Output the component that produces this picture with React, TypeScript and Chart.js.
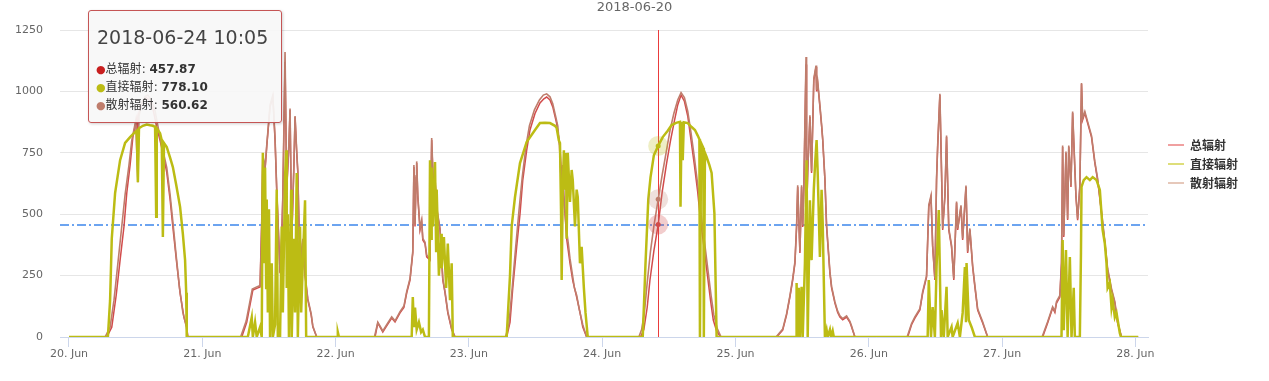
import React, { useEffect, useRef } from "react";
import { Chart, registerables } from "chart.js";

Chart.register(...registerables);

const chartTitle = "2018-06-20";
const dayLabels = ["20. Jun", "21. Jun", "22. Jun", "23. Jun", "24. Jun", "25. Jun", "26. Jun", "27. Jun", "28. Jun"];
const yTicks = [0, 250, 500, 750, 1000, 1250];
const seriesNames = ["总辐射", "直接辐射", "散射辐射"];
const seriesColors = ["#d24b4b", "#bcbc14", "#bf7d6c"];
const legendColors = ["#f0a0a0", "#dede7a", "#e6c8ba"];
const haloColors = ["rgba(210,75,75,0.28)", "rgba(188,188,20,0.25)", "rgba(192,132,114,0.25)"];
const hoverTime = "2018-06-24 10:05";
const hoverHour = 106.08;
const hoverValues = [457.87, 778.1, 560.62];

// [hours since 20 Jun 00:00, W/m²]
const totalRad: [number, number][] = [
  [0, 0],
  [6.8, 0], [7.7, 40], [8.5, 170], [9.2, 313], [9.9, 450], [10.4, 586], [11.0, 700], [11.5, 814], [12.2, 890], [12.4, 640], [12.5, 900], [12.8, 935], [13.3, 962], [13.9, 975], [14.4, 965], [15.1, 930], [15.8, 855], [16.4, 800], [17.0, 740], [17.6, 670], [18.2, 560], [18.7, 448], [19.4, 300], [20.0, 179], [20.7, 80], [21.2, 41], [21.4, 0],
  [31.1, 0], [32.0, 60], [33.1, 191], [34.0, 200], [34.4, 204], [34.7, 464], [34.9, 733], [35.3, 680], [35.6, 774], [36.2, 937], [36.7, 977], [37.1, 800], [37.4, 599], [38.0, 260], [38.3, 400], [38.5, 570], [38.9, 1120], [39.2, 600], [39.6, 780], [39.8, 924], [40.1, 395], [40.5, 700], [40.7, 896], [41.0, 750], [41.2, 668], [41.6, 260], [41.9, 350], [42.1, 395], [42.5, 250], [43.0, 151], [43.6, 90], [43.9, 41], [44.6, 0],
  [55.1, 0], [55.6, 57], [56.5, 20], [57.2, 45], [58.1, 77], [58.7, 61], [59.6, 98], [60.3, 120], [60.8, 179], [61.4, 232], [61.9, 342], [62.1, 692], [62.3, 450], [62.5, 650], [62.6, 708], [62.8, 570], [63.2, 436], [63.5, 470], [63.7, 395], [64.1, 380], [64.4, 326], [65.0, 313], [65.3, 802], [65.7, 550], [65.9, 639], [66.2, 520], [66.8, 436], [67.3, 232], [67.7, 180], [68.2, 98], [68.9, 30], [69.5, 0],
  [78.8, 0], [79.4, 60], [79.9, 200], [80.6, 367], [81.2, 500], [81.7, 639], [82.4, 760], [83.0, 843], [83.9, 910], [84.8, 953], [85.5, 970], [86.0, 977], [86.6, 965], [87.1, 937], [87.8, 870], [88.4, 774], [88.7, 650], [89.3, 505], [89.6, 400], [90.2, 301], [90.7, 230], [91.4, 163], [92.0, 100], [92.5, 41], [93.2, 0],
  [102.9, 0], [103.5, 30], [104.1, 120], [104.6, 232], [105.3, 350], [106.08, 457.87], [106.8, 590], [107.6, 708], [108.3, 800], [109.0, 880], [109.6, 945], [110.2, 985], [110.8, 960], [111.4, 900], [112.0, 800], [112.6, 700], [113.2, 590], [113.7, 476], [114.3, 370], [114.9, 260], [115.5, 150], [116.0, 69], [116.6, 25], [117.3, 0],
  [127.4, 0], [128.5, 28], [129.2, 90], [129.8, 163], [130.3, 232], [130.7, 300], [131.0, 448], [131.2, 611], [131.6, 342], [131.9, 611], [132.1, 448], [132.3, 600], [132.7, 1110], [132.8, 500], [133.0, 668], [133.4, 896], [133.7, 668], [134.1, 1046], [134.5, 1099], [134.6, 1000], [134.8, 1034], [135.2, 937], [135.5, 860], [135.7, 802], [136.1, 639], [136.4, 448], [137.0, 260], [137.3, 200], [137.9, 138], [138.4, 100], [138.8, 81], [139.3, 70], [140.0, 81], [140.6, 60], [140.9, 41], [141.5, 0],
  [151.0, 0], [151.7, 50], [152.3, 77], [153.2, 110], [153.7, 179], [154.4, 244], [154.8, 530], [155.2, 570], [155.5, 367], [155.9, 232], [156.2, 639], [156.4, 774], [156.8, 985], [157.1, 668], [157.3, 436], [157.7, 570], [158.0, 814], [158.4, 436], [158.9, 367], [159.3, 232], [159.8, 546], [160.0, 436], [160.6, 530], [160.9, 395], [161.5, 611], [161.8, 342], [162.2, 436], [162.7, 285], [163.1, 204], [163.6, 110], [164.5, 57], [165.4, 0],
  [175.3, 0], [176.2, 57], [177.1, 118], [177.5, 100], [177.8, 138], [178.4, 163], [178.7, 300], [178.9, 774], [179.1, 407], [179.5, 749], [179.8, 476], [180.0, 774], [180.4, 611], [180.7, 912], [181.3, 570], [181.6, 476], [182.0, 611], [182.3, 1030], [182.5, 884], [182.9, 912], [183.4, 871], [184.1, 814], [184.7, 708], [185.2, 639], [185.9, 505], [186.5, 383], [187.0, 273], [187.7, 191], [188.3, 138], [188.8, 57], [189.5, 0],
  [192.5, 0],
];

const directRad: [number, number][] = [
  [0, 0],
  [7.0, 0], [7.4, 150], [7.7, 400], [8.3, 586], [9.2, 720], [10.1, 790], [11.0, 814], [11.7, 830], [12.2, 840], [12.4, 630], [12.6, 850], [13.3, 860], [14.0, 865], [14.6, 862], [15.1, 860], [15.5, 855], [15.7, 490], [15.8, 850], [16.4, 830], [16.7, 800], [16.9, 407], [17.1, 790], [17.6, 773], [18.2, 730], [18.7, 692], [19.3, 620], [20.0, 530], [20.5, 420], [20.9, 313], [21.1, 180], [21.2, 0],
  [32.2, 0], [32.9, 80], [33.1, 0], [33.5, 60], [33.8, 0], [34.4, 40], [34.7, 0], [34.9, 750], [35.1, 300], [35.3, 690], [35.5, 200], [35.6, 560], [35.8, 100], [36.0, 520], [36.2, 0], [36.5, 300], [36.7, 0], [37.1, 50], [37.4, 600], [37.6, 0], [38.0, 0], [38.3, 450], [38.5, 100], [38.9, 650], [39.1, 760], [39.2, 200], [39.4, 500], [39.6, 0], [40.0, 600], [40.1, 0], [40.5, 400], [40.7, 100], [41.0, 668], [41.2, 0], [41.6, 450], [41.8, 100], [42.1, 300], [42.5, 557], [42.7, 0], [48.3, 0], [48.4, 20], [48.6, 0],
  [61.7, 0], [61.9, 163], [62.1, 40], [62.3, 120], [62.6, 30], [63.0, 60], [63.4, 20], [63.7, 30], [64.1, 0], [64.8, 0], [65.0, 720], [65.2, 400], [65.3, 690], [65.5, 450], [65.9, 712], [66.1, 350], [66.2, 600], [66.6, 250], [67.0, 420], [67.1, 280], [67.5, 407], [67.9, 200], [68.2, 380], [68.6, 150], [68.9, 300], [69.1, 0],
  [78.8, 0], [79.4, 250], [79.7, 450], [80.3, 570], [81.2, 708], [82.4, 794], [83.9, 843], [84.8, 871], [85.7, 872], [86.6, 871], [87.5, 860], [87.8, 851], [88.2, 800], [88.4, 790], [88.6, 500], [88.7, 232], [88.9, 600], [89.1, 760], [89.3, 600], [89.5, 749], [89.6, 400], [89.8, 750], [90.2, 550], [90.5, 680], [90.7, 639], [91.1, 450], [91.4, 600], [91.6, 570], [92.0, 300], [92.3, 367], [92.7, 200], [93.0, 98], [93.4, 0],
  [103.3, 0], [103.8, 300], [104.3, 560], [104.7, 650], [105.3, 740], [106.08, 778.1], [106.9, 814], [107.8, 840], [108.5, 863], [109.3, 872], [110.0, 876], [110.1, 530], [110.3, 876], [110.5, 720], [110.7, 874], [111.4, 871], [112.1, 855], [112.7, 843], [113.2, 820], [113.5, 805], [113.6, 0], [113.8, 790], [114.2, 770], [114.3, 0], [114.5, 750], [114.8, 733], [115.3, 700], [115.7, 668], [116.2, 505], [116.4, 250], [116.6, 0],
  [130.9, 0], [131.0, 220], [131.2, 0], [131.4, 200], [131.6, 0], [131.9, 204], [132.1, 0], [132.5, 300], [132.8, 720], [133.0, 0], [133.4, 557], [133.7, 313], [134.1, 600], [134.3, 692], [134.6, 802], [134.8, 668], [135.2, 326], [135.5, 599], [135.7, 464], [136.1, 0], [136.4, 30], [136.6, 0], [137.0, 30], [137.2, 0], [137.5, 25], [137.7, 0],
  [154.6, 0], [154.8, 232], [155.2, 0], [155.5, 122], [155.9, 0], [156.2, 285], [156.6, 517], [157.0, 0], [157.1, 110], [157.5, 0], [158.0, 204], [158.2, 0], [158.9, 41], [159.1, 0], [160.0, 57], [160.4, 0], [160.9, 98], [161.3, 285], [161.5, 60], [161.6, 301], [162.0, 69], [162.5, 41], [163.1, 0],
  [178.7, 0], [178.9, 395], [179.1, 28], [179.5, 354], [179.8, 0], [180.2, 326], [180.5, 0], [180.9, 200], [181.1, 0], [182.0, 0], [182.2, 342], [182.3, 611], [182.7, 639], [183.2, 651], [183.8, 639], [184.3, 651], [185.0, 639], [185.6, 599], [186.1, 436], [186.5, 380], [186.8, 301], [187.0, 200], [187.4, 220], [187.7, 120], [187.9, 151], [188.3, 80], [188.6, 98], [189.2, 15], [189.4, 0],
  [192.5, 0],
];

const diffuseRad: [number, number][] = [
  [0, 0],
  [6.5, 0], [7.4, 40], [8.1, 150], [8.8, 300], [9.5, 450], [10.1, 580], [10.8, 700], [11.3, 800], [12.0, 880], [12.4, 630], [12.6, 900], [13.1, 950], [13.7, 980], [14.2, 985], [14.8, 965], [15.5, 920], [16.0, 860], [16.5, 800], [17.1, 740], [17.6, 690], [18.2, 580], [18.7, 470], [19.3, 330], [19.9, 200], [20.5, 100], [21.1, 45], [21.4, 0],
  [30.9, 0], [31.9, 65], [33.0, 195], [33.9, 205], [34.4, 210], [34.7, 470], [34.9, 740], [35.3, 690], [35.6, 780], [36.2, 945], [36.7, 985], [37.1, 810], [37.4, 605], [38.0, 265], [38.3, 410], [38.5, 575], [38.9, 1160], [39.2, 610], [39.6, 790], [39.8, 930], [40.1, 400], [40.5, 705], [40.7, 900], [41.0, 755], [41.2, 675], [41.6, 265], [41.9, 355], [42.1, 400], [42.5, 255], [43.0, 155], [43.6, 95], [43.9, 45], [44.6, 0],
  [55.0, 0], [55.6, 60], [56.5, 25], [57.2, 50], [58.1, 82], [58.7, 66], [59.6, 103], [60.3, 126], [60.8, 185], [61.4, 238], [61.9, 350], [62.1, 700], [62.3, 458], [62.5, 656], [62.6, 715], [62.8, 578], [63.2, 442], [63.5, 476], [63.7, 402], [64.1, 386], [64.4, 333], [65.0, 320], [65.3, 810], [65.7, 556], [65.9, 646], [66.2, 527], [66.8, 442], [67.3, 238], [67.7, 186], [68.2, 104], [68.9, 34], [69.5, 0],
  [78.6, 0], [79.2, 50], [79.8, 200], [80.4, 360], [81.0, 510], [81.6, 650], [82.3, 780], [82.9, 860], [83.8, 925], [84.7, 965], [85.4, 985], [86.0, 990], [86.6, 978], [87.1, 950], [87.6, 900], [88.0, 860], [88.3, 780], [88.6, 640], [88.9, 700], [89.2, 540], [89.5, 450], [89.9, 380], [90.2, 320], [90.6, 260], [91.0, 200], [91.4, 170], [91.9, 110], [92.5, 50], [93.2, 0],
  [102.6, 0], [103.1, 30], [103.6, 100], [104.1, 220], [104.7, 350], [105.3, 450], [106.08, 560.62], [106.8, 660], [107.5, 750], [108.2, 840], [108.9, 910], [109.6, 965], [110.2, 995], [110.8, 975], [111.4, 920], [112.0, 830], [112.6, 730], [113.2, 620], [113.8, 500], [114.4, 390], [115.0, 280], [115.6, 170], [116.1, 90], [116.7, 35], [117.4, 0],
  [127.3, 0], [128.5, 32], [129.2, 95], [129.8, 168], [130.3, 238], [130.7, 306], [131.0, 455], [131.2, 618], [131.6, 348], [131.9, 618], [132.1, 455], [132.3, 606], [132.7, 1140], [132.8, 506], [133.0, 675], [133.4, 903], [133.7, 675], [134.1, 1052], [134.5, 1105], [134.6, 1006], [134.8, 1040], [135.2, 943], [135.5, 866], [135.7, 808], [136.1, 645], [136.4, 455], [137.0, 266], [137.3, 206], [137.9, 143], [138.4, 105], [138.8, 86], [139.3, 75], [140.0, 86], [140.6, 64], [140.9, 45], [141.5, 0],
  [150.9, 0], [151.7, 55], [152.3, 82], [153.2, 115], [153.7, 185], [154.4, 250], [154.8, 537], [155.2, 576], [155.5, 373], [155.9, 238], [156.2, 645], [156.4, 780], [156.8, 990], [157.1, 675], [157.3, 442], [157.7, 576], [158.0, 820], [158.4, 442], [158.9, 373], [159.3, 238], [159.8, 552], [160.0, 442], [160.6, 536], [160.9, 401], [161.5, 617], [161.8, 348], [162.2, 442], [162.7, 291], [163.1, 210], [163.6, 115], [164.5, 62], [165.4, 0],
  [175.2, 0], [176.2, 62], [177.1, 123], [177.5, 105], [177.8, 144], [178.4, 169], [178.7, 306], [178.9, 780], [179.1, 413], [179.5, 755], [179.8, 482], [180.0, 780], [180.4, 617], [180.7, 918], [181.3, 576], [181.6, 482], [182.0, 617], [182.3, 1034], [182.5, 890], [182.9, 918], [183.4, 877], [184.1, 820], [184.7, 714], [185.2, 645], [185.9, 511], [186.5, 389], [187.0, 279], [187.7, 197], [188.3, 144], [188.8, 62], [189.5, 0],
  [192.5, 0],
];

const FONT = '"DejaVu Sans", "Noto Sans CJK SC", sans-serif';

const overlayPlugin = {
  id: "overlay",
  beforeDatasetsDraw(chart: any) {
    const { ctx, chartArea, scales } = chart;
    const px = Math.round(scales.x.getPixelForValue(hoverHour)) + 0.5;
    const py = Math.round(scales.y.getPixelForValue(hoverValues[0]));
    ctx.save();
    ctx.lineWidth = 1.6;
    ctx.strokeStyle = "#3d86ec";
    ctx.setLineDash([9, 3, 2, 3]);
    ctx.beginPath();
    ctx.moveTo(chartArea.left, py);
    ctx.lineTo(chartArea.right, py);
    ctx.stroke();
    ctx.setLineDash([]);
    ctx.lineWidth = 1;
    ctx.strokeStyle = "#ea3c3c";
    ctx.beginPath();
    ctx.moveTo(px, chartArea.top);
    ctx.lineTo(px, chartArea.bottom);
    ctx.stroke();
    ctx.restore();
  },
  afterDatasetsDraw(chart: any) {
    const { ctx, scales } = chart;
    const px = scales.x.getPixelForValue(hoverHour);
    ctx.save();
    hoverValues.forEach((v, i) => {
      const cy = scales.y.getPixelForValue(v);
      ctx.fillStyle = haloColors[i];
      ctx.beginPath();
      ctx.arc(px, cy, 10, 0, Math.PI * 2);
      ctx.fill();
      ctx.fillStyle = seriesColors[i];
      ctx.beginPath();
      ctx.arc(px, cy, 2.5, 0, Math.PI * 2);
      ctx.fill();
    });
    ctx.restore();
  },
};

export default function App() {
  const canvasRef = useRef<HTMLCanvasElement | null>(null);

  useEffect(() => {
    if (!canvasRef.current) return;
    const toXY = (arr: [number, number][]) => arr.map(([x, y]) => ({ x, y }));
    const chart = new Chart(canvasRef.current, {
      type: "line",
      data: {
        datasets: [
          { label: seriesNames[0], data: toXY(totalRad), borderColor: seriesColors[0], borderWidth: 1.5, order: 2 },
          { label: seriesNames[1], data: toXY(directRad), borderColor: seriesColors[1], borderWidth: 2.5, order: 0 },
          { label: seriesNames[2], data: toXY(diffuseRad), borderColor: seriesColors[2], borderWidth: 1.6, order: 1 },
        ],
      },
      options: {
        responsive: false,
        animation: false,
        events: [],
        layout: { padding: { top: 30, right: 121, left: 0, bottom: 0 } },
        elements: { point: { radius: 0 }, line: { tension: 0 } },
        plugins: { legend: { display: false }, tooltip: { enabled: false }, title: { display: false } },
        scales: {
          x: {
            type: "linear",
            min: -1.62,
            max: 194.27,
            afterBuildTicks: (s: any) => {
              s.ticks = dayLabels.map((_, i) => ({ value: i * 24 }));
            },
            afterFit: (s: any) => {
              s.height = 44;
            },
            grid: { drawOnChartArea: false, drawTicks: true, tickLength: 10, color: "#ccd6eb" },
            border: { color: "#ccd6eb" },
            ticks: {
              padding: 1,
              color: "#666666",
              font: { family: FONT, size: 11 },
              maxRotation: 0,
              autoSkip: false,
              callback: (_v: any, i: number) => dayLabels[i],
            },
          },
          y: {
            min: 0,
            max: 1250,
            afterBuildTicks: (s: any) => {
              s.ticks = yTicks.map((v) => ({ value: v }));
            },
            afterFit: (s: any) => {
              s.width = 60;
            },
            grid: { color: "#e6e6e6", drawTicks: false },
            border: { display: false },
            ticks: {
              padding: 17,
              color: "#666666",
              font: { family: FONT, size: 11 },
              callback: (v: any) => String(v),
            },
          },
        },
      },
      plugins: [overlayPlugin],
    } as any);
    return () => chart.destroy();
  }, []);

  return (
    <div style={{ position: "absolute", left: 0, top: 0, width: 1269, height: 381, background: "#fff", fontFamily: FONT }}>
      <canvas ref={canvasRef} width={1269} height={381} style={{ display: "block" }} />
      <div style={{ position: "absolute", left: 0, width: 1269, top: 0, textAlign: "center", fontSize: 13, lineHeight: "14px", color: "#666" }}>
        {chartTitle}
      </div>
      <div
        style={{
          position: "absolute",
          left: 88,
          top: 10,
          width: 192,
          height: 111,
          border: "1px solid #c55555",
          borderRadius: 3,
          background: "rgba(247,247,247,0.92)",
          boxShadow: "1px 1px 3px rgba(0,0,0,0.18)",
        }}
      >
        <div style={{ position: "absolute", left: 8, top: 15, fontSize: 19, lineHeight: "22px", color: "#444", whiteSpace: "nowrap" }}>
          {hoverTime}
        </div>
        {seriesNames.map((n, i) => (
          <div
            key={n}
            style={{ position: "absolute", left: 7, top: 49 + i * 18, fontSize: 12, lineHeight: "18px", color: "#333", whiteSpace: "nowrap" }}
          >
            <span style={{ color: i === 0 ? "#c81e1e" : seriesColors[i], fontSize: 11 }}>●</span>
            {n}: <b>{hoverValues[i].toFixed(2)}</b>
          </div>
        ))}
      </div>
      <div style={{ position: "absolute", left: 1168, top: 135 }}>
        {seriesNames.map((n, i) => (
          <div key={n} style={{ display: "flex", alignItems: "center", height: 19, whiteSpace: "nowrap" }}>
            <span style={{ display: "inline-block", width: 16, height: 2, background: legendColors[i], marginRight: 6 }} />
            <span style={{ fontSize: 12, fontWeight: "bold", color: "#333" }}>{n}</span>
          </div>
        ))}
      </div>
    </div>
  );
}
